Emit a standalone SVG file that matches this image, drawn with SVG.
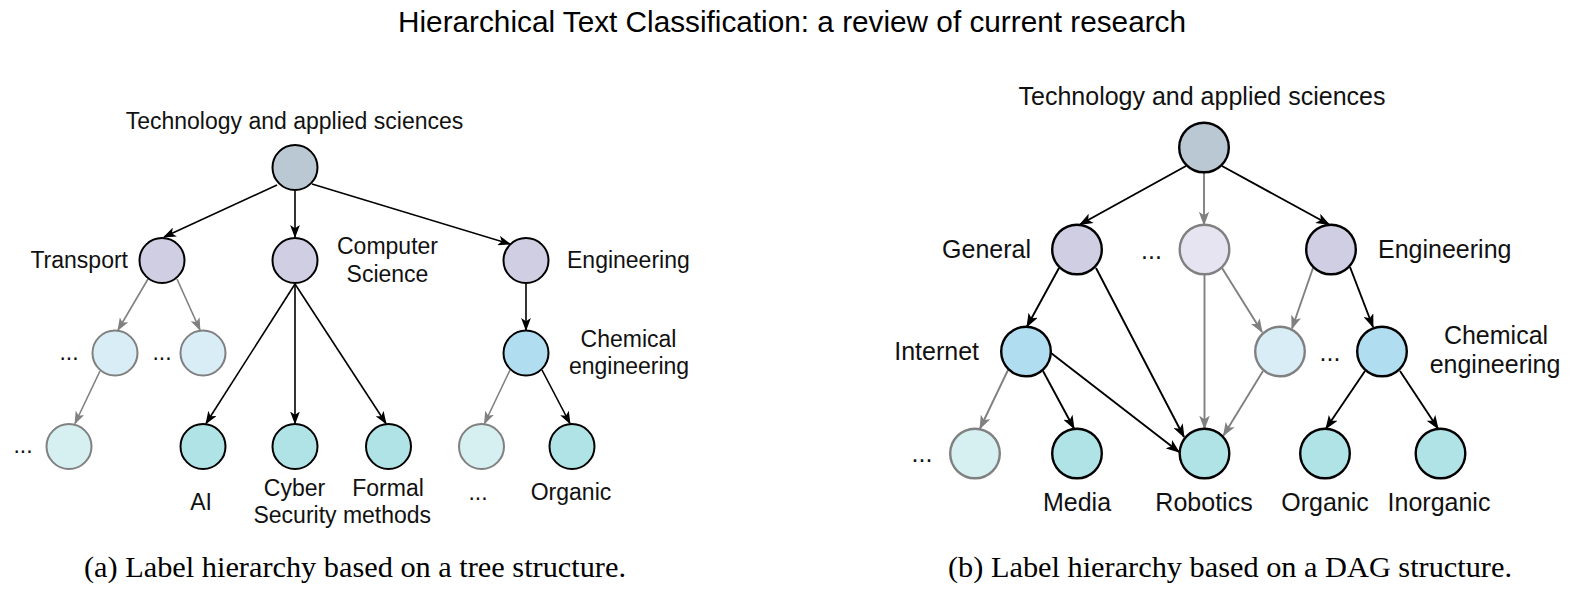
<svg xmlns="http://www.w3.org/2000/svg" width="1589" height="598" viewBox="0 0 1589 598">
<style>
.bg{fill:#ffffff}
.t{font-family:"Liberation Sans",Arial,sans-serif;fill:#111}
.ta{font-size:23px}
.tb{font-size:25px}
.title{font-family:"Liberation Sans",Arial,sans-serif;font-size:29.4px;fill:#000}
.cap{font-family:"Liberation Serif","Times New Roman",serif;font-size:30px;fill:#000}
.na{stroke-width:2}
.nb{stroke-width:2.4}
.k{stroke:#000}
.g{stroke:#808080}
.root{fill:#bac8d3}
.l2{fill:#d0cee2}
.l2g{fill:#e5e4f0}
.l3{fill:#b1ddf0}
.l3g{fill:#d8edf6}
.l4{fill:#b0e3e6}
.l4g{fill:#d6eff0}
.ea{fill:none;stroke-width:1.6}
.eb{fill:none;stroke-width:1.9}
.ek{stroke:#000}
.eg{stroke:#808080}
</style>
<defs>
<marker id="mk" markerUnits="userSpaceOnUse" viewBox="0 0 12 9" refX="11" refY="4.5" markerWidth="13" markerHeight="9.75" orient="auto"><path d="M0,0 L12,4.5 L0,9 L3,4.5 Z" fill="#000"/></marker>
<marker id="mg" markerUnits="userSpaceOnUse" viewBox="0 0 12 9" refX="11" refY="4.5" markerWidth="13" markerHeight="9.75" orient="auto"><path d="M0,0 L12,4.5 L0,9 L3,4.5 Z" fill="#808080"/></marker>
<marker id="mkb" markerUnits="userSpaceOnUse" viewBox="0 0 12 9" refX="11" refY="4.5" markerWidth="14" markerHeight="10.5" orient="auto"><path d="M0,0 L12,4.5 L0,9 L3,4.5 Z" fill="#000"/></marker>
<marker id="mgb" markerUnits="userSpaceOnUse" viewBox="0 0 12 9" refX="11" refY="4.5" markerWidth="14" markerHeight="10.5" orient="auto"><path d="M0,0 L12,4.5 L0,9 L3,4.5 Z" fill="#808080"/></marker>
</defs>
<rect class="bg" x="0" y="0" width="1589" height="598"/>
<text class="title" x="398" y="31.5" textLength="788" lengthAdjust="spacingAndGlyphs">Hierarchical Text Classification: a review of current research</text>

<g id="connectors">
<line class="ea ek" x1="277" y1="185" x2="164" y2="237" marker-end="url(#mk)"/>
<line class="ea ek" x1="295" y1="191" x2="295" y2="237" marker-end="url(#mk)"/>
<line class="ea ek" x1="312" y1="184" x2="510" y2="244" marker-end="url(#mk)"/>
<line class="ea eg" x1="148" y1="279" x2="118" y2="330" marker-end="url(#mg)"/>
<line class="ea eg" x1="177" y1="279" x2="200" y2="330" marker-end="url(#mg)"/>
<line class="ea eg" x1="100" y1="371" x2="75" y2="423.5" marker-end="url(#mg)"/>
<line class="ea ek" x1="295" y1="284" x2="206" y2="423.5" marker-end="url(#mk)"/>
<line class="ea ek" x1="295" y1="284" x2="295" y2="423.5" marker-end="url(#mk)"/>
<line class="ea ek" x1="295" y1="284" x2="386" y2="423.5" marker-end="url(#mk)"/>
<line class="ea ek" x1="526" y1="284" x2="526" y2="330" marker-end="url(#mk)"/>
<line class="ea eg" x1="510" y1="370" x2="484.5" y2="423.5" marker-end="url(#mg)"/>
<line class="ea ek" x1="542" y1="370" x2="570" y2="423.5" marker-end="url(#mk)"/>

<line class="eb ek" x1="1186" y1="166" x2="1080" y2="224.5" marker-end="url(#mkb)"/>
<line class="eb eg" x1="1204" y1="173" x2="1204" y2="224.5" marker-end="url(#mgb)"/>
<line class="eb ek" x1="1222" y1="166" x2="1329" y2="224.5" marker-end="url(#mkb)"/>
<line class="eb ek" x1="1059" y1="268" x2="1027" y2="326.5" marker-end="url(#mkb)"/>
<line class="eb ek" x1="1096" y1="268" x2="1184" y2="437" marker-end="url(#mkb)"/>
<line class="eb ek" x1="1051" y1="353" x2="1179" y2="452" marker-end="url(#mkb)"/>
<line class="eb ek" x1="1043" y1="371" x2="1074" y2="428.5" marker-end="url(#mkb)"/>
<line class="eb eg" x1="1008" y1="370" x2="980" y2="428.5" marker-end="url(#mgb)"/>
<line class="eb eg" x1="1204.5" y1="275" x2="1204.5" y2="428.5" marker-end="url(#mgb)"/>
<line class="eb eg" x1="1222" y1="268" x2="1262" y2="332" marker-end="url(#mgb)"/>
<line class="eb eg" x1="1313" y1="268" x2="1292" y2="328.5" marker-end="url(#mgb)"/>
<line class="eb ek" x1="1350" y1="267" x2="1373" y2="327" marker-end="url(#mkb)"/>
<line class="eb eg" x1="1263" y1="371" x2="1223.5" y2="435.5" marker-end="url(#mgb)"/>
<line class="eb ek" x1="1365" y1="371" x2="1326" y2="428.5" marker-end="url(#mkb)"/>
<line class="eb ek" x1="1400" y1="371" x2="1438" y2="428.5" marker-end="url(#mkb)"/>
</g>

<g id="a-root"><circle class="na k root" cx="295" cy="167.5" r="22.5"/><text class="t ta" x="294.5" y="129.3" text-anchor="middle">Technology and applied sciences</text></g>
<g id="a-transport"><circle class="na k l2" cx="162" cy="260.5" r="22.5"/><text class="t ta" x="128" y="268" text-anchor="end">Transport</text></g>
<g id="a-cs"><circle class="na k l2" cx="295" cy="260.5" r="22.5"/><text class="t ta" x="387.5" y="254" text-anchor="middle">Computer</text><text class="t ta" x="387.5" y="282" text-anchor="middle">Science</text></g>
<g id="a-eng"><circle class="na k l2" cx="526" cy="260.5" r="22.5"/><text class="t ta" x="567" y="268">Engineering</text></g>
<g id="a-d1"><circle class="na g l3g" cx="115" cy="353" r="22.5"/><text class="t ta" x="69" y="360" text-anchor="middle">...</text></g>
<g id="a-d2"><circle class="na g l3g" cx="203" cy="353" r="22.5"/><text class="t ta" x="162" y="360" text-anchor="middle">...</text></g>
<g id="a-chem"><circle class="na k l3" cx="526" cy="353" r="22.5"/><text class="t ta" x="628.5" y="347" text-anchor="middle">Chemical</text><text class="t ta" x="629" y="374" text-anchor="middle">engineering</text></g>
<g id="a-d3"><circle class="na g l4g" cx="69" cy="446.5" r="22.5"/><text class="t ta" x="23" y="453" text-anchor="middle">...</text></g>
<g id="a-ai"><circle class="na k l4" cx="203" cy="446.5" r="22.5"/><text class="t ta" x="201" y="510" text-anchor="middle">AI</text></g>
<g id="a-cyber"><circle class="na k l4" cx="295" cy="446.5" r="22.5"/><text class="t ta" x="294.5" y="496" text-anchor="middle">Cyber</text><text class="t ta" x="295" y="523" text-anchor="middle">Security</text></g>
<g id="a-formal"><circle class="na k l4" cx="388.5" cy="446.5" r="22.5"/><text class="t ta" x="388" y="496" text-anchor="middle">Formal</text><text class="t ta" x="387" y="523" text-anchor="middle">methods</text></g>
<g id="a-d4"><circle class="na g l4g" cx="481.5" cy="446.5" r="22.5"/><text class="t ta" x="478" y="500" text-anchor="middle">...</text></g>
<g id="a-organic"><circle class="na k l4" cx="572" cy="446.5" r="22.5"/><text class="t ta" x="571" y="500" text-anchor="middle">Organic</text></g>
<text class="cap" x="84" y="577.3" textLength="542" lengthAdjust="spacingAndGlyphs">(a) Label hierarchy based on a tree structure.</text>

<g id="b-root"><circle class="nb k root" cx="1204" cy="147.5" r="24.8"/><text class="t tb" x="1202" y="105" text-anchor="middle">Technology and applied sciences</text></g>
<g id="b-general"><circle class="nb k l2" cx="1077" cy="249.5" r="24.8"/><text class="t tb" x="1031" y="258" text-anchor="end">General</text></g>
<g id="b-dots"><circle class="nb g l2g" cx="1204.5" cy="249.5" r="24.8"/><text class="t tb" x="1151.5" y="259" text-anchor="middle">...</text></g>
<g id="b-eng"><circle class="nb k l2" cx="1331" cy="249.5" r="24.8"/><text class="t tb" x="1378" y="258">Engineering</text></g>
<g id="b-internet"><circle class="nb k l3" cx="1026" cy="351.5" r="24.8"/><text class="t tb" x="979" y="360" text-anchor="end">Internet</text></g>
<g id="b-d5"><circle class="nb g l3g" cx="1280" cy="351.5" r="24.8"/><text class="t tb" x="1330" y="361" text-anchor="middle">...</text></g>
<g id="b-chem"><circle class="nb k l3" cx="1382" cy="351.5" r="24.8"/><text class="t tb" x="1496" y="344" text-anchor="middle">Chemical</text><text class="t tb" x="1495" y="373" text-anchor="middle">engineering</text></g>
<g id="b-d6"><circle class="nb g l4g" cx="975" cy="453.5" r="24.8"/><text class="t tb" x="922" y="462" text-anchor="middle">...</text></g>
<g id="b-media"><circle class="nb k l4" cx="1077" cy="453.5" r="24.8"/><text class="t tb" x="1077" y="511" text-anchor="middle">Media</text></g>
<g id="b-robotics"><circle class="nb k l4" cx="1204.5" cy="453.5" r="24.8"/><text class="t tb" x="1204" y="511" text-anchor="middle">Robotics</text></g>
<g id="b-organic"><circle class="nb k l4" cx="1325" cy="453.5" r="24.8"/><text class="t tb" x="1325" y="511" text-anchor="middle">Organic</text></g>
<g id="b-inorganic"><circle class="nb k l4" cx="1440.5" cy="453.5" r="24.8"/><text class="t tb" x="1439" y="511" text-anchor="middle">Inorganic</text></g>
<text class="cap" x="948" y="577.3" textLength="564" lengthAdjust="spacingAndGlyphs">(b) Label hierarchy based on a DAG structure.</text>
</svg>
